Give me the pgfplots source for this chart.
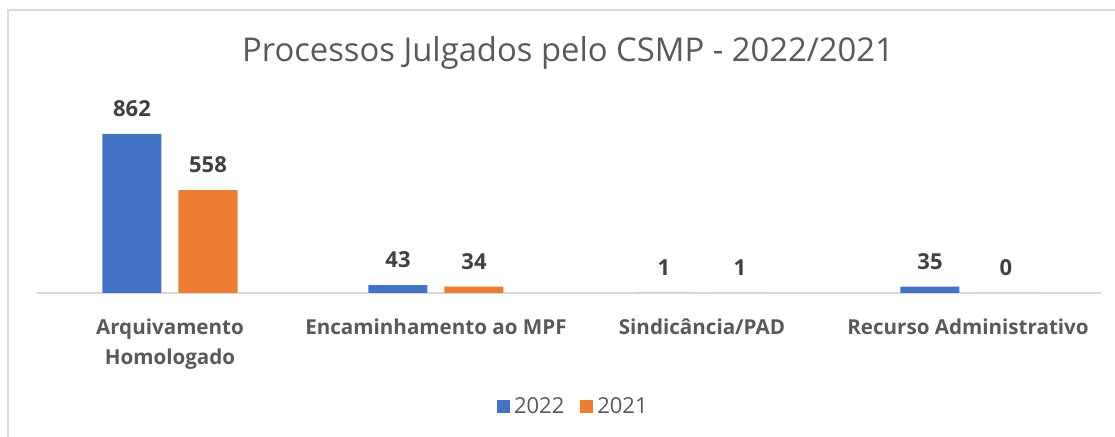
\documentclass[border=0pt]{standalone}
\usepackage{pgfplots}
\pgfplotsset{compat=1.18}
\usepackage{fontspec}
\setmainfont{Open Sans}
\definecolor{b22}{HTML}{4472C4}
\definecolor{o21}{HTML}{ED7D31}
\definecolor{tg}{HTML}{595959}
\definecolor{dg}{HTML}{404040}
\definecolor{lg}{HTML}{D9D9D9}
\begin{document}
\begin{tikzpicture}
\useasboundingbox (0pt,0pt) rectangle (557.5pt,218.5pt);
\draw[lg, line width=0.6pt] (4pt,-2pt) -- (4pt,213.5pt) -- (560pt,213.5pt);
\node[text=tg, font=\fontsize{16.4}{20}\selectfont] at (284pt,192pt) {Processos Julgados pelo CSMP - 2022/2021};
\begin{axis}[
  at={(18.5pt,72pt)}, anchor=south west,
  scale only axis, width=532pt, height=96.5pt,
  xmin=-0.5, xmax=3.5, ymin=0, ymax=1046,
  axis x line=bottom, hide y axis,
  x axis line style={draw=lg, line width=0.6pt, -},
  xtick={0,1,2,3}, xtick style={draw=none},
  xticklabels={Arquivamento\\Homologado, Encaminhamento ao MPF, Sindicância/PAD, Recurso Administrativo},
  xticklabel style={align=center, text=tg, font=\fontsize{10.3}{15}\selectfont\bfseries, yshift=-5pt},
  ybar=0pt, bar width=29.5pt,
  enlarge x limits=false,
  /pgf/number format/assume math mode=true,
  nodes near coords={\pgfmathprintnumber{\pgfplotspointmeta}},
  nodes near coords style={text=dg, font=\fontsize{11}{14}\selectfont\bfseries, yshift=5pt},
  legend columns=2,
  legend style={draw=none, at={(0.505,-0.59)}, anchor=center, font=\fontsize{11}{14}\selectfont, text=tg, /tikz/every even column/.append style={column sep=6pt}},
  legend image code/.code={\fill[#1] (0pt,-3.25pt) rectangle (6.5pt,3.25pt);},
]
\addplot[fill=b22, draw=none, bar shift=-19pt] coordinates {(0,862) (1,43) (2,1) (3,35)};
\addplot[fill=o21, draw=none, bar shift=19pt] coordinates {(0,558) (1,34) (2,1) (3,0)};
\legend{2022,2021}
\end{axis}
\end{tikzpicture}
\end{document}
